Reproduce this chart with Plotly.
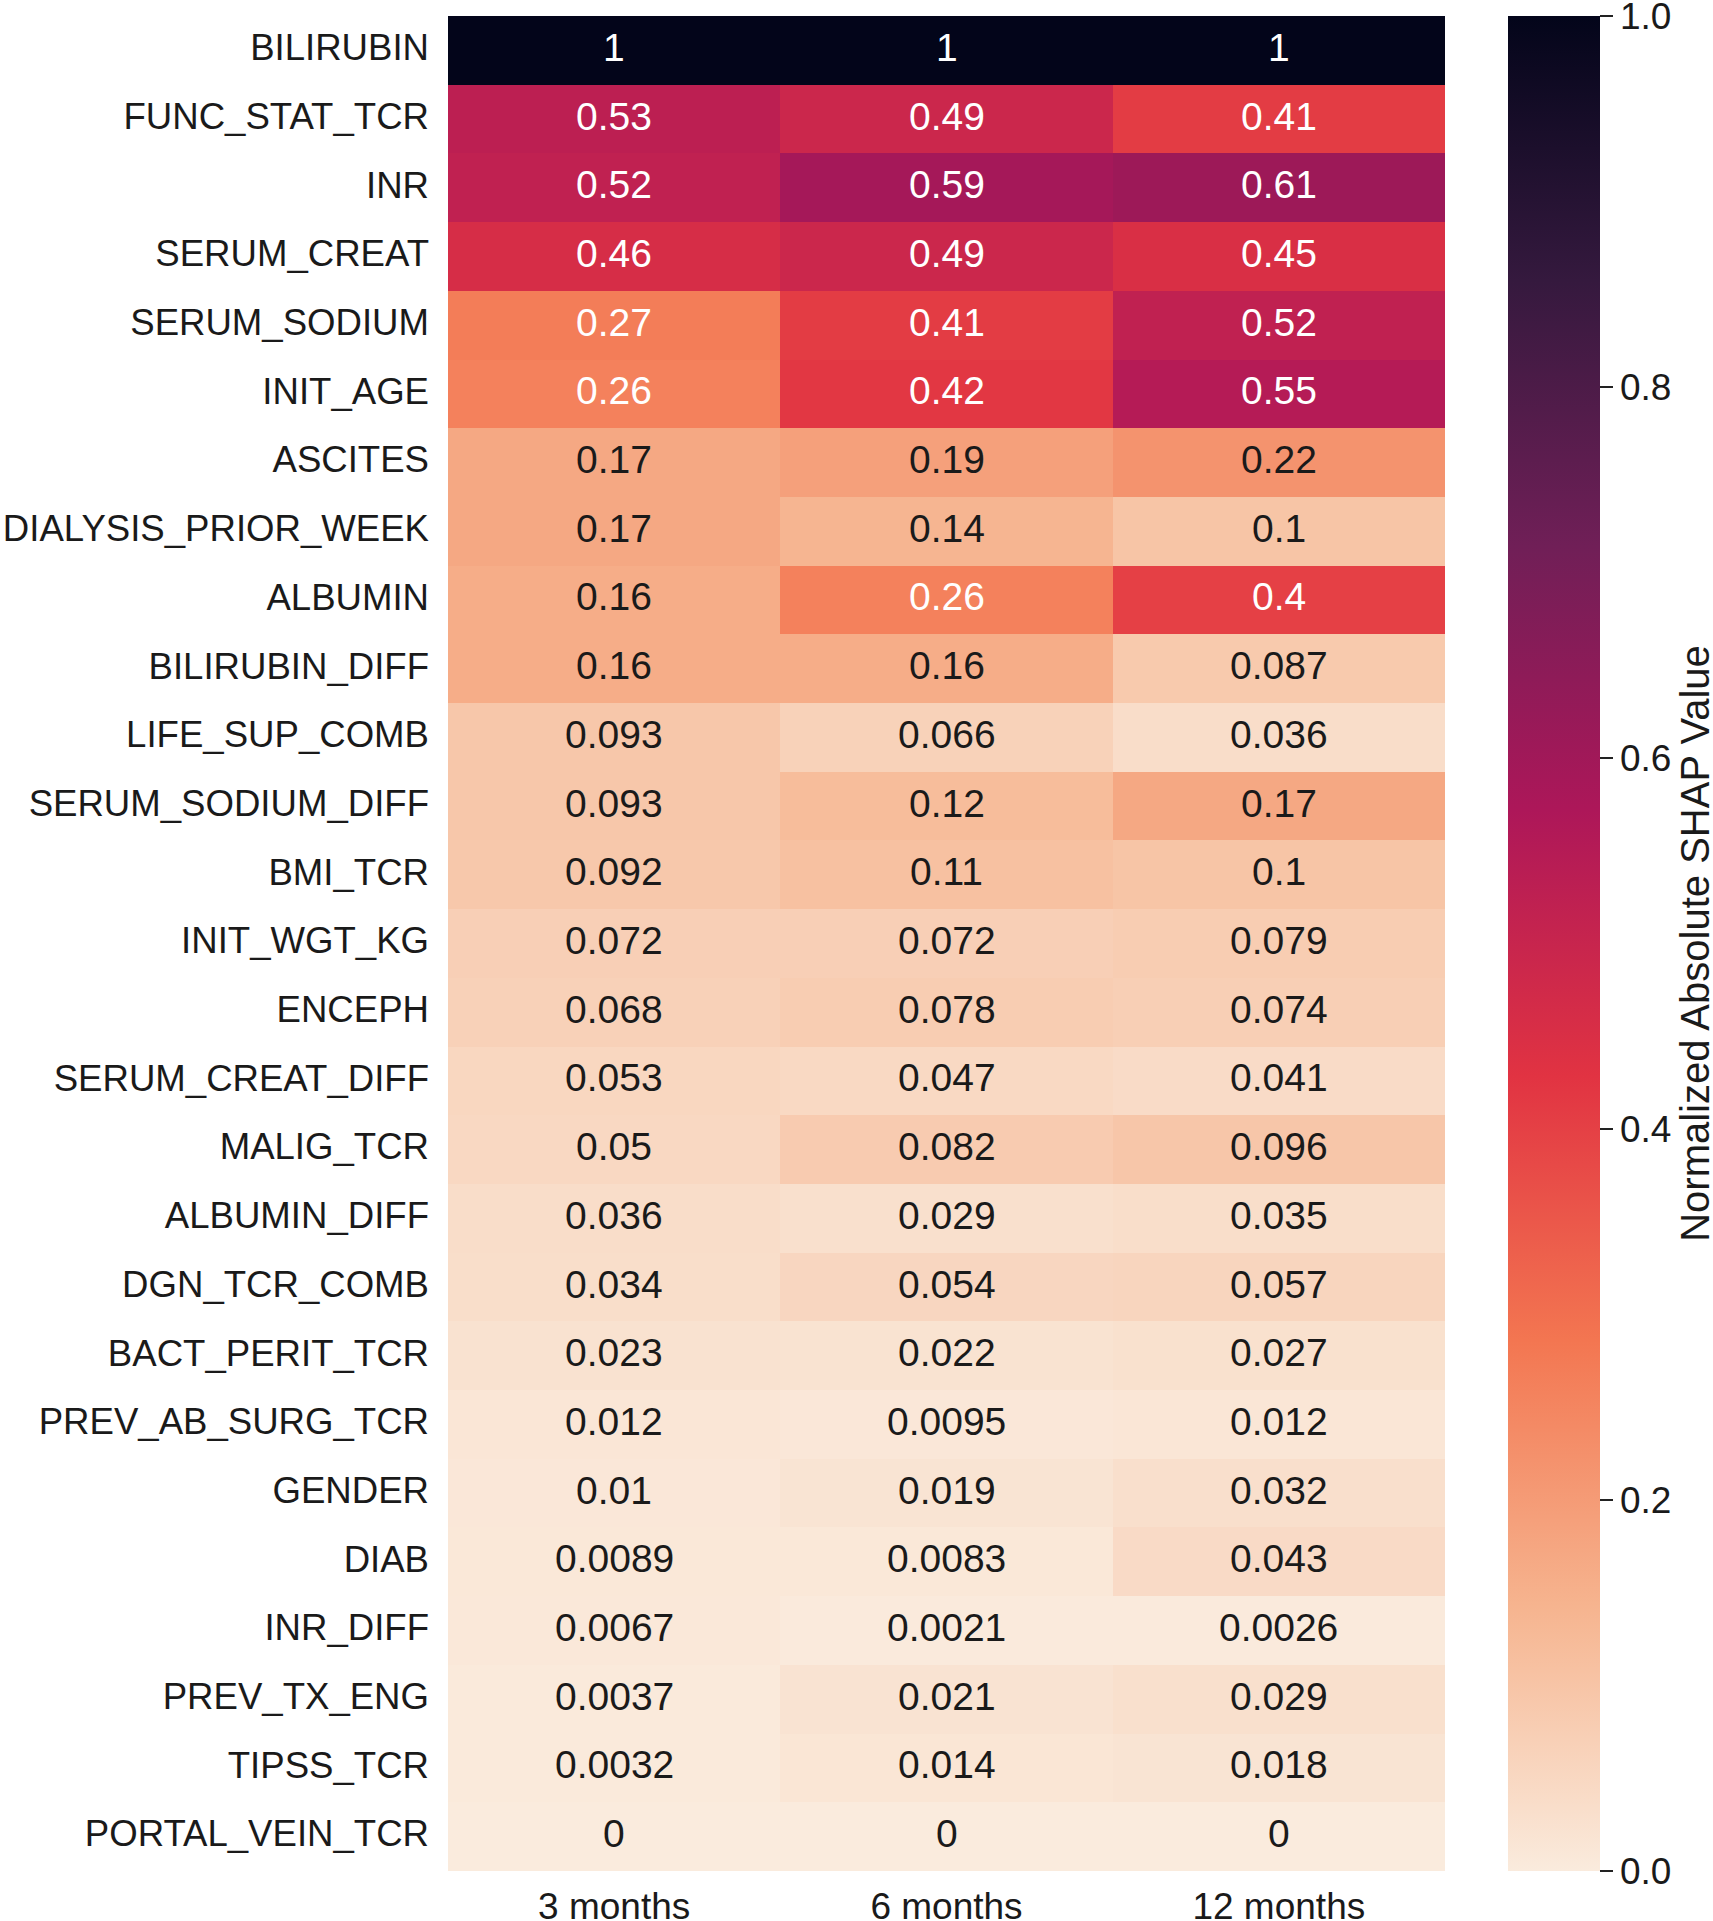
import plotly.graph_objects as go

features = ["BILIRUBIN", "FUNC_STAT_TCR", "INR", "SERUM_CREAT", "SERUM_SODIUM", "INIT_AGE",
            "ASCITES", "DIALYSIS_PRIOR_WEEK", "ALBUMIN", "BILIRUBIN_DIFF", "LIFE_SUP_COMB",
            "SERUM_SODIUM_DIFF", "BMI_TCR", "INIT_WGT_KG", "ENCEPH", "SERUM_CREAT_DIFF",
            "MALIG_TCR", "ALBUMIN_DIFF", "DGN_TCR_COMB", "BACT_PERIT_TCR", "PREV_AB_SURG_TCR",
            "GENDER", "DIAB", "INR_DIFF", "PREV_TX_ENG", "TIPSS_TCR", "PORTAL_VEIN_TCR"]
horizons = ["3 months", "6 months", "12 months"]

m3 = [1, 0.53, 0.52, 0.46, 0.27, 0.26, 0.17, 0.17, 0.16, 0.16, 0.093, 0.093, 0.092, 0.072,
      0.068, 0.053, 0.05, 0.036, 0.034, 0.023, 0.012, 0.01, 0.0089, 0.0067, 0.0037, 0.0032, 0]
m6 = [1, 0.49, 0.59, 0.49, 0.41, 0.42, 0.19, 0.14, 0.26, 0.16, 0.066, 0.12, 0.11, 0.072,
      0.078, 0.047, 0.082, 0.029, 0.054, 0.022, 0.0095, 0.019, 0.0083, 0.0021, 0.021, 0.014, 0]
m12 = [1, 0.41, 0.61, 0.45, 0.52, 0.55, 0.22, 0.1, 0.4, 0.087, 0.036, 0.17, 0.1, 0.079,
       0.074, 0.041, 0.096, 0.035, 0.057, 0.027, 0.012, 0.032, 0.043, 0.0026, 0.029, 0.018, 0]

cbar_ticks = [0.0, 0.2, 0.4, 0.6, 0.8, 1.0]
cbar_labels = ["0.0", "0.2", "0.4", "0.6", "0.8", "1.0"]

columns = [m3, m6, m12]
z = [[columns[j][i] for j in range(3)] for i in range(len(features))]

rocket_r = [
    [0.0, "#faebdd"],
    [1/7, "#f6b48f"],
    [2/7, "#f37651"],
    [3/7, "#e13342"],
    [4/7, "#ad1759"],
    [5/7, "#701f57"],
    [6/7, "#35193e"],
    [1.0, "#03051a"],
]

FONT = "Liberation Sans, Arial, sans-serif"
TXT = "#1a1a1a"

fig = go.Figure(go.Heatmap(
    z=z, x=horizons, y=features, zmin=0, zmax=1, colorscale=rocket_r,
    xgap=0, ygap=0,
    colorbar=dict(
        thickness=92, thicknessmode="pixels", len=1, lenmode="fraction",
        x=1.0632, xanchor="left", y=0.5, yanchor="middle", xpad=0, ypad=0,
        outlinewidth=0, ticks="outside", ticklen=13, tickwidth=1.5, tickcolor="#222",
        tickvals=cbar_ticks, ticktext=cbar_labels, ticklabeloverflow="allow",
        tickfont=dict(size=37, family=FONT, color=TXT),
        title=dict(text="Normalized Absolute SHAP Value", side="right",
                   font=dict(size=40, family=FONT, color=TXT)),
    ),
    hoverinfo="skip",
))

annotations = []
for i, f in enumerate(features):
    for j, h in enumerate(horizons):
        v = columns[j][i]
        annotations.append(dict(
            x=h, y=f, xref="x", yref="y", text=f"{v:.2g}", showarrow=False, yshift=3,
            font=dict(size=39, family=FONT, color="white" if v >= 0.25 else TXT),
        ))

fig.update_layout(
    width=1713, height=1921,
    margin=dict(l=448, r=268, t=16, b=50, autoexpand=False),
    paper_bgcolor="white", plot_bgcolor="white",
    annotations=annotations,
    font=dict(family=FONT, color=TXT),
)
fig.update_xaxes(ticks="", showline=False, showgrid=False, zeroline=False,
                 tickfont=dict(size=37, family=FONT, color=TXT), ticklabelstandoff=10,
                 automargin=False)
fig.update_yaxes(autorange="reversed", ticks="", showline=False, showgrid=False, zeroline=False,
                 tickfont=dict(size=36.6, family=FONT, color=TXT), ticklabelstandoff=18,
                 ticklabelshift=3, automargin=False)

fig.write_html("out.html")
